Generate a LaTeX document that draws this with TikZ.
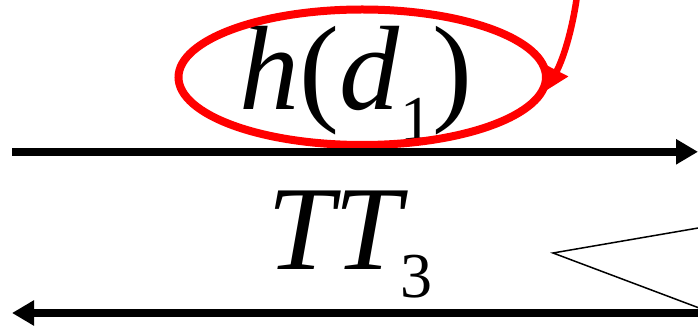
\documentclass[tikz,border=0pt]{standalone}
\usepackage{fontspec}
\setmainfont{Liberation Serif}[ItalicFont={Liberation Serif Italic}]
\usetikzlibrary{arrows.meta,positioning,shapes.geometric}

\begin{document}
\begin{tikzpicture}[x=1pt, y=-1pt, >=Stealth,
    msg/.style={line width=8.5pt, -{Triangle[length=22pt,width=24pt]}},
    redring/.style={ellipse, draw=red, line width=8pt, minimum width=367.5pt, minimum height=135.5pt, inner sep=0pt},
    pointer/.style={red, line width=6.5pt, -{Triangle[length=22pt,width=24pt]}},
    bigtext/.style={inner sep=0pt, anchor=base, font=\fontsize{120}{120}\selectfont},
    wedge/.style={line width=1.5pt}]
    \useasboundingbox (0,0) rectangle (698,328);

    \node[bigtext] (hd) at (356,110) {\textit{h}(\textit{d}\raisebox{-31pt}{\fontsize{64}{64}\selectfont 1})};
    \node[redring] (ring) at (362.25,77.25) {};
    \node[bigtext] (tt) at (350,270) {\textit{TT}\kern-8pt\raisebox{-28pt}{\fontsize{64}{64}\selectfont 3}};

    \coordinate (ptr) at (577,-4);
    \draw[pointer] (ptr) .. controls (573,25) and (565,55) .. (ring.-4);

    \coordinate (inL) at (12,151.8);
    \coordinate (inR) at (698,151.8);
    \coordinate (outR) at (702,313);
    \coordinate (outL) at (12,313);
    \draw[msg] (inL) -- (inR);
    \draw[msg] (outR) -- (outL);

    \coordinate (wtop) at (700,227.7);
    \coordinate (wtip) at (553,253);
    \coordinate (wbot) at (700,308.3);
    \draw[wedge] (wtop) -- (wtip) -- (wbot);
\end{tikzpicture}
\end{document}
